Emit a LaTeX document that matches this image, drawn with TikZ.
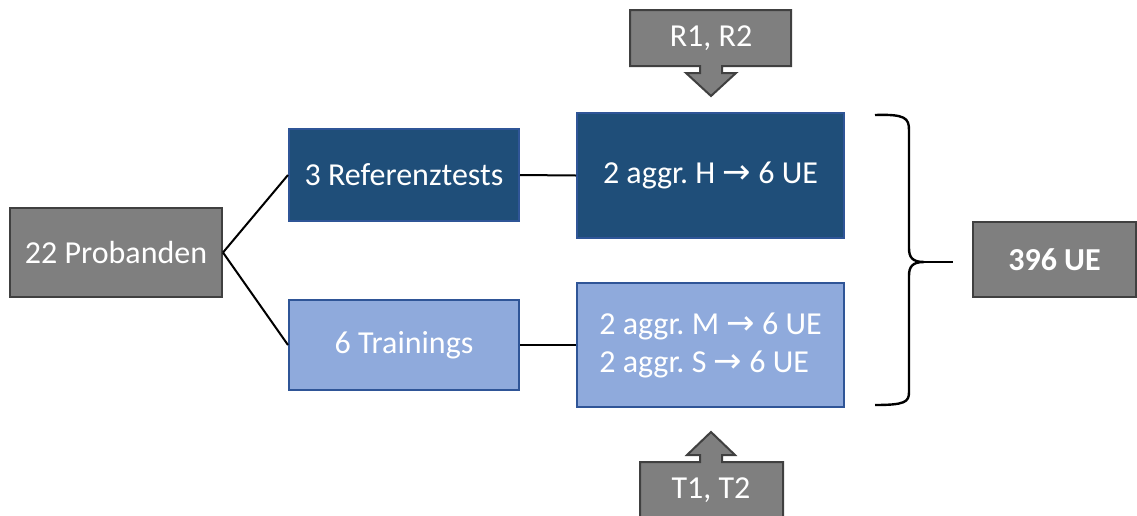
\documentclass[tikz,border=0pt]{standalone}
\usepackage{fontspec}
\setmainfont{Carlito}
\newfontfamily\arrowfont{DejaVu Sans}
\usepackage{tikz}
\usepackage{xcolor}
\frenchspacing
\definecolor{boxgray}{HTML}{7F7F7F}
\definecolor{boxgrayline}{HTML}{404040}
\definecolor{darkblue}{HTML}{1F4E79}
\definecolor{lightblue}{HTML}{8FAADC}
\definecolor{blueline}{HTML}{2F5597}
\newcommand{\toarrow}{{\arrowfont\fontsize{17}{19}\selectfont\char"2192}}
\tikzset{
    plain-box/.style = {rectangle, text=white, line width=1pt, inner sep=2pt, font=\fontsize{16}{19}\selectfont},
    gray-box/.style = {plain-box, draw=boxgrayline, fill=boxgray},
    dark-box/.style = {plain-box, draw=blueline, fill=darkblue},
    light-box/.style = {plain-box, draw=blueline, fill=lightblue},
    link/.style = {black, line width=1pt},
}

\begin{document}
\begin{tikzpicture}[x=0.5pt, y=-0.5pt]
\clip (0,0) rectangle (1137,515);
\node [gray-box, minimum width=106pt, minimum height=44.5pt] (prob) at (116,252.5) {22 Probanden};
\node [dark-box, minimum width=115pt, minimum height=46pt] (ref) at (404,175) {3 Referenztests};
\node [light-box, minimum width=115pt, minimum height=45pt] (train) at (404,345) {6 Trainings};
\node [dark-box, minimum width=133.5pt, minimum height=62.5pt] (hagg) at (710.5,175.5) {2 aggr. H \toarrow\ 6 UE};
\node [light-box, minimum width=133.5pt, minimum height=62pt, align=left] (msagg) at (710.5,345) {2 aggr. M \toarrow\ 6 UE\\2 aggr. S \toarrow\ 6 UE};
\node [gray-box, minimum width=81.5pt, minimum height=37.5pt, font=\fontsize{16}{19}\selectfont\bfseries] (total) at (1054.5,259.5) {396 UE};

\draw [link] (prob.east) -- (ref.west);
\draw [link] (prob.east) -- (train.west);
\draw [link] (ref.east) -- (hagg.west);
\draw [link] (train.east) -- (msagg.west);

% brace
\draw [black, line width=1.2pt] (875,115) .. controls (905,114) and (909,118) .. (909,130)
    -- (909,248) .. controls (909,257) and (912,262) .. (924,262)
    .. controls (912,262) and (909,267) .. (909,276)
    -- (909,392) .. controls (909,402) and (905,405) .. (875,405);
\draw [black, line width=1.2pt] (924,262) -- (953,262);

% callouts
\draw [gray-box] (630,10) -- (791,10) -- (791,66) -- (722,66) -- (722,73) -- (736,73)
    -- (711,96) -- (686,73) -- (700,73) -- (700,66) -- (630,66) -- cycle;
\node [plain-box] (rr) at (711,38) {R1, R2};
\draw [gray-box] (640,530) -- (640,462) -- (700,462) -- (700,455) -- (687,455) -- (711,432)
    -- (735,455) -- (722,455) -- (722,462) -- (783,462) -- (783,530) -- cycle;
\node [plain-box] (tt) at (711,490) {T1, T2};
\end{tikzpicture}
\end{document}
